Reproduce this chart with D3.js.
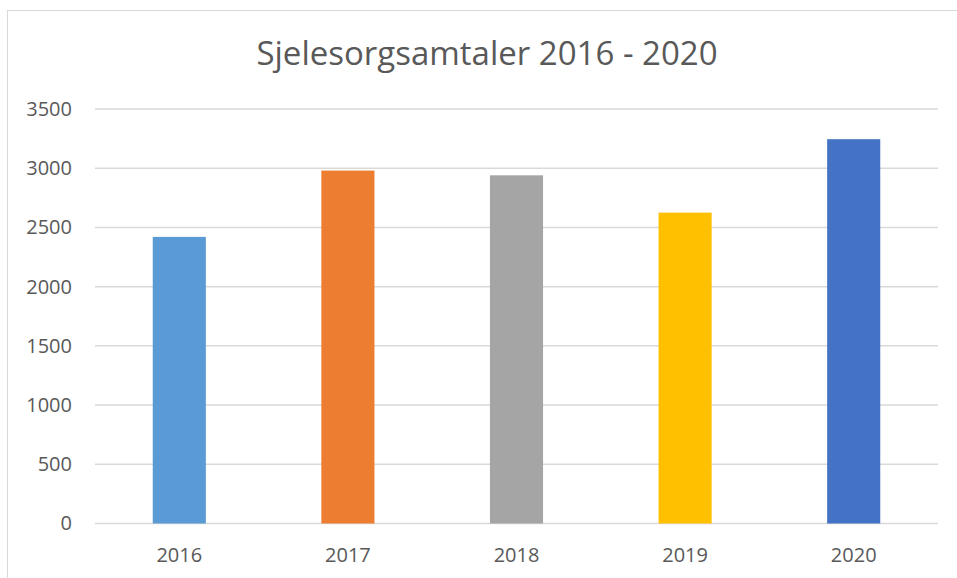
<!DOCTYPE html>
<html>
<head>
<meta charset="utf-8">
<script src="https://cdn.jsdelivr.net/npm/d3@7"></script>
<style>
  body { margin: 0; background: #fff; }
  text { font-family: "Open Sans", "Liberation Sans", sans-serif; fill: #595959; }
</style>
</head>
<body>
<script>
var w = 957;
var h = 578;

var title = "Sjelesorgsamtaler 2016 - 2020";
var years = ["2016", "2017", "2018", "2019", "2020"];
var values = [2420, 2980, 2940, 2625, 3245];
var colors = ["#5b9bd5", "#ed7d31", "#a5a5a5", "#ffc000", "#4472c4"];
var yTicks = [0, 500, 1000, 1500, 2000, 2500, 3000, 3500];

var svg = d3.select("body").append("svg")
  .attr("width", w)
  .attr("height", h);

// chart frame
svg.append("rect")
  .attr("x", 7.5)
  .attr("y", 10.5)
  .attr("width", 960)
  .attr("height", 600)
  .attr("fill", "#fff")
  .attr("stroke", "#d9d9d9")
  .attr("stroke-width", 1);

var plot = { left: 95, right: 938, top: 109, bottom: 523.5 };

var x = d3.scaleBand()
  .domain(years)
  .range([plot.left, plot.right])
  .padding(0);

var y = d3.scaleLinear()
  .domain([0, 3500])
  .range([plot.bottom, plot.top]);

// gridlines
svg.append("g")
  .selectAll("line")
  .data(yTicks)
  .enter().append("line")
  .attr("x1", plot.left)
  .attr("x2", plot.right)
  .attr("y1", d => y(d))
  .attr("y2", d => y(d))
  .attr("stroke", "#d9d9d9")
  .attr("stroke-width", 1.5);

// y axis labels
var yAxis = svg.append("g")
  .attr("transform", "translate(" + [72, 0] + ")")
  .call(d3.axisLeft(y).tickValues(yTicks).tickFormat(d3.format("d")).tickSize(0).tickPadding(0));
yAxis.select(".domain").remove();
yAxis.selectAll("text")
  .attr("fill", "#595959")
  .style("font-size", "20px")
  .style("font-family", "\"Open Sans\", \"Liberation Sans\", sans-serif");

// bars
var barW = x.bandwidth() * 0.315;
svg.append("g")
  .selectAll("rect")
  .data(values)
  .enter().append("rect")
  .attr("x", (d, i) => x(years[i]) + x.bandwidth() / 2 - barW / 2)
  .attr("y", d => y(d))
  .attr("width", barW)
  .attr("height", d => y(0) - y(d))
  .attr("fill", (d, i) => colors[i]);

// x axis labels
var xAxis = svg.append("g")
  .attr("transform", "translate(" + [0, plot.bottom] + ")")
  .call(d3.axisBottom(x).tickSize(0).tickPadding(24));
xAxis.select(".domain").remove();
xAxis.selectAll("text")
  .attr("fill", "#595959")
  .style("font-size", "20px")
  .style("font-family", "\"Open Sans\", \"Liberation Sans\", sans-serif");

// title
svg.append("text")
  .attr("x", 487)
  .attr("y", 65)
  .attr("text-anchor", "middle")
  .style("font-size", "33px")
  .text(title);
</script>
</body>
</html>
